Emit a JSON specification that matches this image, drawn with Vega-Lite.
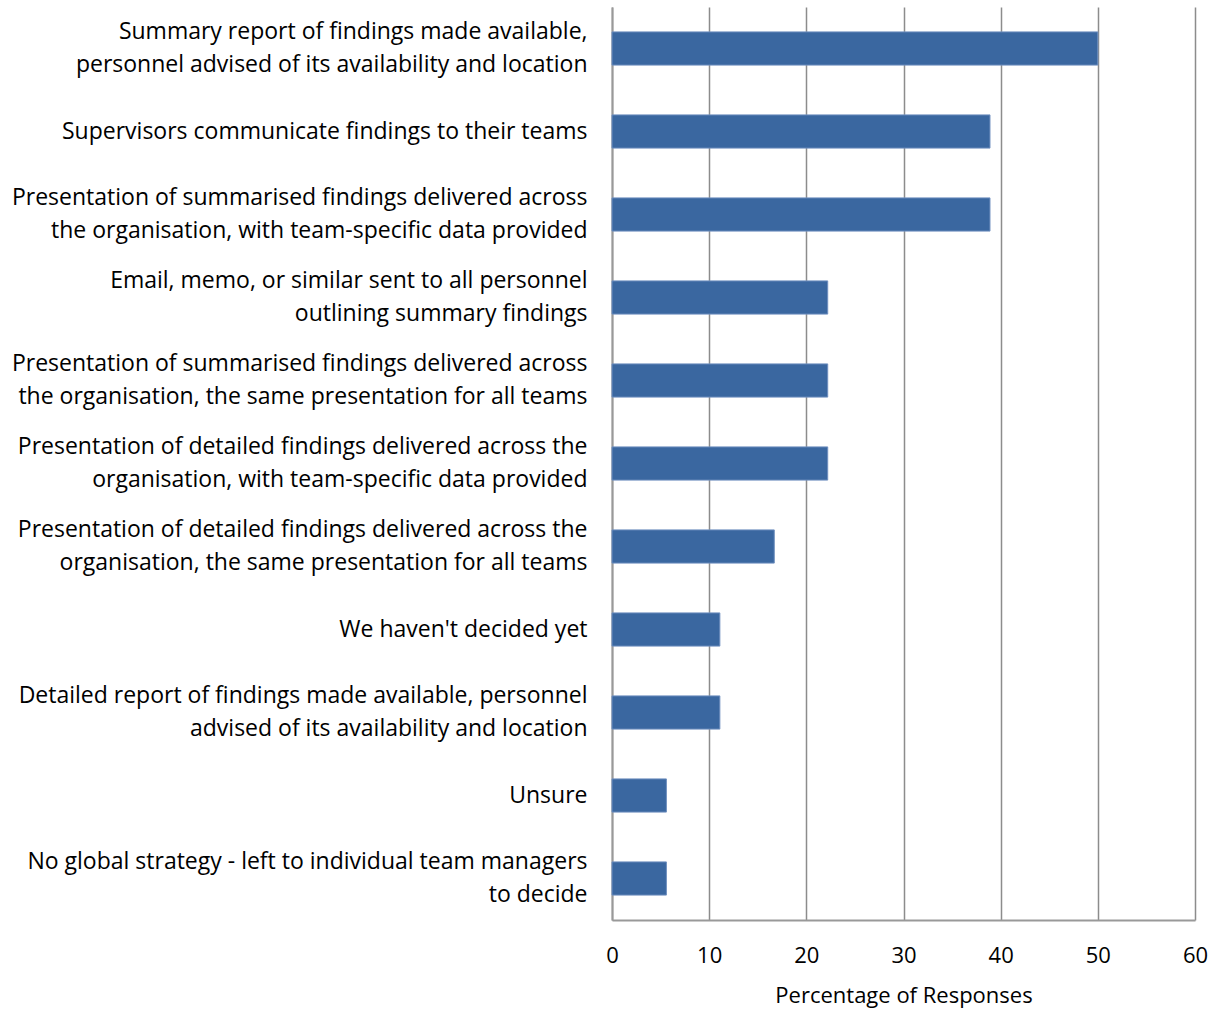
{
  "$schema": "https://vega.github.io/schema/vega-lite/v6.json",
  "autosize": {"type": "none"},
  "padding": {"left": 612, "top": 7, "right": 21, "bottom": 90},
  "width": 583,
  "height": 913,
  "background": "white",
  "config": {"view": {"stroke": null}, "font": "Open Sans"},
  "data": {"values": [
    {"strategy": "Summary report of findings made available,|personnel advised of its availability and location", "pct": 50.0},
    {"strategy": "Supervisors communicate findings to their teams", "pct": 38.9},
    {"strategy": "Presentation of summarised findings delivered across|the organisation, with team-specific data provided", "pct": 38.9},
    {"strategy": "Email, memo, or similar sent to all personnel|outlining summary findings", "pct": 22.2},
    {"strategy": "Presentation of summarised findings delivered across|the organisation, the same presentation for all teams", "pct": 22.2},
    {"strategy": "Presentation of detailed findings delivered across the|organisation, with team-specific data provided", "pct": 22.2},
    {"strategy": "Presentation of detailed findings delivered across the|organisation, the same presentation for all teams", "pct": 16.7},
    {"strategy": "We haven't decided yet", "pct": 11.1},
    {"strategy": "Detailed report of findings made available, personnel|advised of its availability and location", "pct": 11.1},
    {"strategy": "Unsure", "pct": 5.6},
    {"strategy": "No global strategy - left to individual team managers|to decide", "pct": 5.6}
  ]},
  "mark": {"type": "bar", "color": "#3A67A0", "stroke": "#6F8FBF", "strokeWidth": 1},
  "encoding": {
    "y": {
      "field": "strategy", "type": "nominal", "sort": null,
      "scale": {"paddingInner": 0.6, "paddingOuter": 0.3},
      "axis": {
        "title": null,
        "labelExpr": "split(datum.value, '|')",
        "labelFont": "Open Sans",
        "labelFontSize": 23,
        "labelLineHeight": 33,
        "labelColor": "#000000",
        "labelPadding": 25,
        "labelLimit": 620,
        "labelOffset": {"expr": "indexof(datum.value, '|') >= 0 ? -16.5 : 0"},
        "ticks": false,
        "domainColor": "#999999",
        "domainWidth": 2,
        "grid": false
      }
    },
    "x": {
      "field": "pct", "type": "quantitative",
      "scale": {"domain": [0, 60], "nice": false},
      "axis": {
        "title": "Percentage of Responses",
        "titleFont": "Open Sans",
        "titleFontSize": 22,
        "titleFontWeight": "normal",
        "titleColor": "#000000",
        "titlePadding": 19,
        "values": [0, 10, 20, 30, 40, 50, 60],
        "labelFont": "Open Sans",
        "labelFontSize": 22,
        "labelColor": "#000000",
        "labelPadding": 25,
        "labelFlush": false,
        "ticks": false,
        "domainColor": "#999999",
        "domainWidth": 2,
        "grid": true,
        "gridColor": "#8C8C8C",
        "gridWidth": 1.5
      }
    }
  }
}
